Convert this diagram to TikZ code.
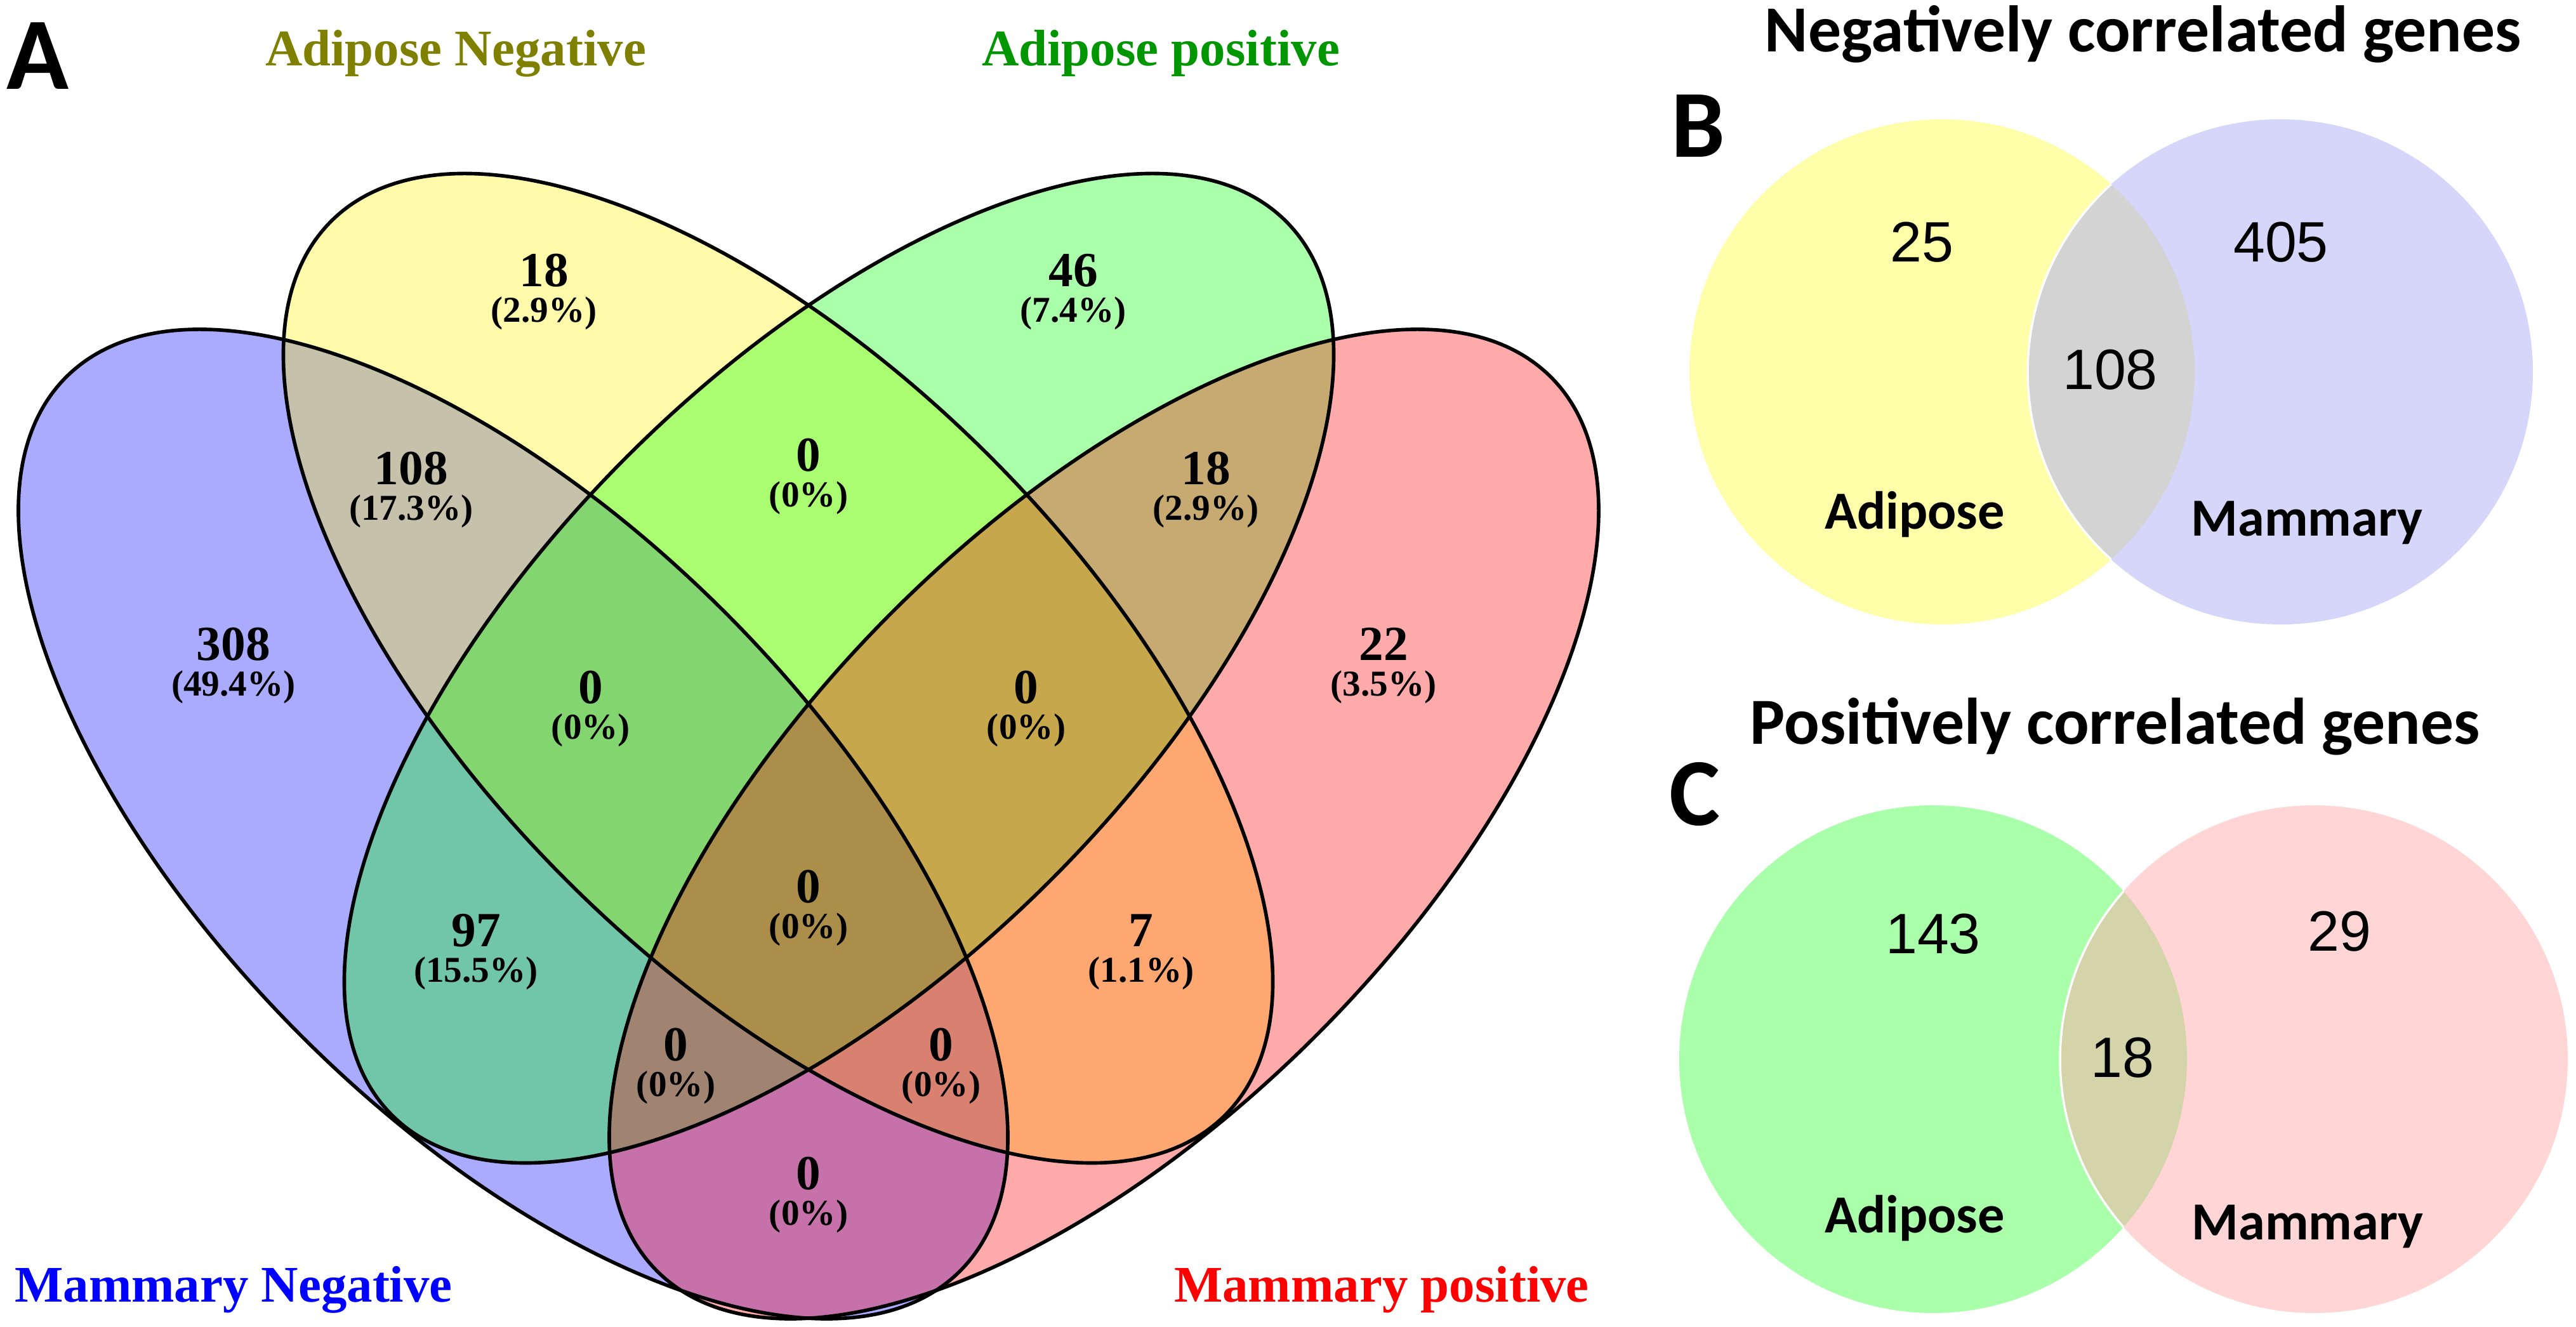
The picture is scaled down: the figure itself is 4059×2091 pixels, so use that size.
\documentclass[tikz,border=0pt]{standalone}
\usepackage{fontspec}
\setmainfont{Liberation Serif}
\newfontfamily\calibri{Carlito}
\newfontfamily\arial{Liberation Sans}
\usepackage{tikz}

\definecolor{olivelbl}{RGB}{128,128,0}
\definecolor{greenlbl}{RGB}{0,150,0}
\definecolor{negyellow}{RGB}{255,255,170}
\definecolor{neglav}{RGB}{214,214,250}
\definecolor{neggrey}{RGB}{211,211,211}
\definecolor{posgreen}{RGB}{170,255,170}
\definecolor{pospink}{RGB}{255,213,213}
\definecolor{posmix}{RGB}{212,212,170}

\begin{document}
\begin{tikzpicture}[x=0.01cm, y=0.01cm,
    setline/.style={line width=1.6pt},
    setfill/.style={fill opacity=0.333},
    count/.style={font=\bfseries\fontsize{22}{26}\selectfont, inner sep=0pt},
    share/.style={font=\bfseries\fontsize{16.3}{19}\selectfont, inner sep=0pt},
    setname/.style={font=\bfseries\fontsize{23}{27}\selectfont, anchor=base, inner sep=0pt},
    panel/.style={font=\calibri\bfseries\fontsize{43}{48}\selectfont, anchor=base, inner sep=0pt},
    heading/.style={font=\calibri\bfseries\fontsize{29.5}{34}\selectfont, anchor=base, inner sep=0pt},
    total/.style={font=\arial\fontsize{25.5}{30}\selectfont, inner sep=0pt},
    tissue/.style={font=\calibri\bfseries\fontsize{24}{28}\selectfont, anchor=base, inner sep=0pt}]
        \useasboundingbox (0,0) rectangle (4059,2091);

        % Ellipses (panel A)
        \foreach \col/\cx/\cy/\ang in {blue/808.5/792.5/-45, yellow/1226/1038/-45,
                                      green/1322/1038/45, red/1739.5/792.5/45}
            \fill[\col, setfill, rotate around={\ang:(\cx,\cy)}] (\cx,\cy) ellipse [x radius=996, y radius=472];
        \foreach \cx/\cy/\ang in {808.5/792.5/-45, 1226/1038/-45, 1322/1038/45, 1739.5/792.5/45}
            \draw[setline, rotate around={\ang:(\cx,\cy)}] (\cx,\cy) ellipse [x radius=996, y radius=472];

        % Counts (panel A)
        \foreach \name/\px/\py/\num/\pct in {an/857/1665/18/2.9, ap/1691/1665/46/7.4,
                 anmn/648/1353/108/17.3, anap/1274/1374/0/0, apmp/1900/1353/18/2.9,
                 mn/368/1076/308/49.4, mp/2180/1076/22/3.5,
                 anapmn/931/1008/0/0, anapmp/1617/1008/0/0, all/1274/694/0/0,
                 apmn/750/625/97/15.5, anmp/1798/625/7/1.1,
                 apmnmp/1065/445/0/0, anmnmp/1483/445/0/0, mnmp/1274/242/0/0}
        {
            \node at (\px,\py) [count] (n\name) {\num};
            \node at (\px,\py-68) [share] (p\name) {(\pct\%)};
        }

        % Set names (panel A)
        \node at (60,1950) [panel, font=\calibri\bfseries\fontsize{46}{50}\selectfont] (lblA) {A};
        \node at (718,1987) [setname, text=olivelbl] (adineg) {Adipose Negative};
        \node at (1829,1987) [setname, text=greenlbl] (adipos) {Adipose positive};
        \node at (368,39) [setname, text=blue] (mamneg) {Mammary Negative};
        \node at (2177,39) [setname, text=red] (mampos) {Mammary positive};

        % Panel B
        \node at (3377,2009) [heading] (negtitle) {Negatively correlated genes};
        \node at (2676,1843) [panel] (lblB) {B};
        \fill[negyellow] (3060,1505) circle (398);
        \fill[neglav] (3593,1505) circle (398);
        \begin{scope}
            \clip (3060,1505) circle (398);
            \fill[neggrey] (3593,1505) circle (398);
            \draw[white, line width=1pt] (3593,1505) circle (398);
        \end{scope}
        \node at (3028,1709) [total] (negadi) {25};
        \node at (3594,1709) [total] (negmam) {405};
        \node at (3325,1508) [total] (negboth) {108};
        \node at (3017,1257) [tissue] (negadilbl) {Adipose};
        \node at (3635,1246) [tissue] (negmamlbl) {Mammary};

        % Panel C
        \node at (3333,918) [heading] (postitle) {Positively correlated genes};
        \node at (2670,790) [panel] (lblC) {C};
        \fill[posgreen] (3046,422) circle (400);
        \fill[pospink] (3646,422) circle (400);
        \begin{scope}
            \clip (3046,422) circle (400);
            \fill[posmix] (3646,422) circle (400);
            \draw[white, line width=1pt] (3646,422) circle (400);
        \end{scope}
        \node at (3046,619) [total] (posadi) {143};
        \node at (3686,623) [total] (posmam) {29};
        \node at (3344,424) [total] (posboth) {18};
        \node at (3017,148) [tissue] (posadilbl) {Adipose};
        \node at (3636,137) [tissue] (posmamlbl) {Mammary};

    \end{tikzpicture}
\end{document}
